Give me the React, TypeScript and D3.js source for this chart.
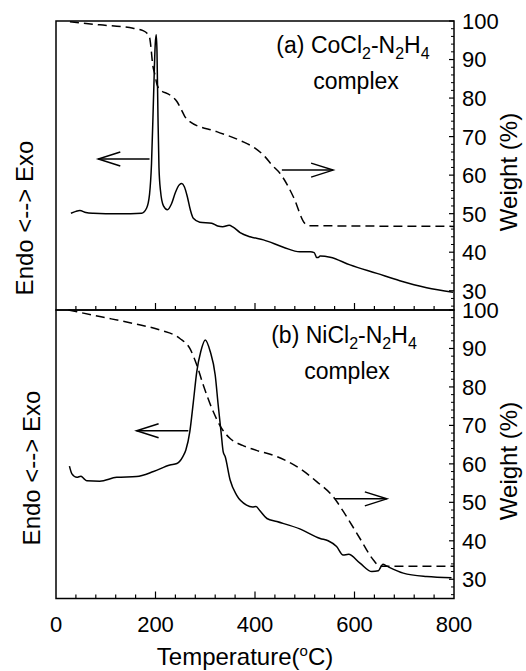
import React from "react";
import * as d3 from "d3";

// ---- data (temperature °C, value) ----
// (a) CoCl2-N2H4 : DSC (solid, arbitrary units on weight-like scale) and TG weight %
const coDSC: [number, number][] = [
  [30, 50.1], [40, 50.6], [48, 50.8], [60, 50.3], [75, 50.1], [100, 50.0], [150, 50.0],
  [172, 50.1], [182, 51.4], [188, 55.0], [192, 63.0], [196, 80], [199.5, 94], [201.5, 96.4],
  [203, 92], [205, 75], [207, 62], [210, 56], [216, 52], [224, 51.0], [232, 52.5],
  [240, 55.5], [248, 57.5], [253, 57.8], [258, 57], [264, 54.4], [270, 51], [276, 48.8],
  [289, 47.8], [313, 47.5], [325, 46.8], [335, 46.6], [348, 47.0], [356, 46.5], [370, 45.1],
  [390, 44.0], [417, 43.2], [457, 41.3], [490, 40.1], [511, 40.1], [519, 39.9], [524, 38.6],
  [527, 38.6], [531, 39.0], [551, 38.7], [591, 36.7], [645, 34.5], [691, 32.6], [745, 30.8],
  [798, 29.6],
];
const coTG: [number, number][] = [
  [28, 99.8], [88, 99.0], [155, 98.1], [175, 97.5], [183, 96.8], [188, 95.8], [191, 93],
  [194, 89], [199, 86], [203, 83.5], [208, 82.3], [229, 80.8], [243, 79.1], [252, 77],
  [259, 75.2], [269, 73.9], [323, 71.3], [370, 69.0], [400, 67.0], [420, 64.8], [435, 62.5],
  [450, 60.5], [477, 54.4], [500, 47.5], [507, 46.9], [600, 46.8], [800, 46.7],
];
// (b) NiCl2-N2H4
const niDSC: [number, number][] = [
  [27, 59.4], [32, 57.4], [42, 56.5], [50, 56.8], [55, 56.3], [62, 55.6], [88, 55.5],
  [122, 56.5], [162, 56.7], [196, 58.0], [229, 59.7], [243, 60.1], [255, 61.9], [261, 63.6],
  [269, 68.4], [276, 76], [283, 84.0], [291, 89.2], [300, 92.2], [310, 89.2], [320, 83.1],
  [326, 75.3], [332, 68], [336, 63.2], [340, 61.9], [350, 55.8], [363, 51.9], [383, 49.3],
  [395, 48.8], [402, 48.9], [410, 47.8], [424, 45.8], [444, 45.0], [490, 43.1], [531, 40.6],
  [547, 40.0], [564, 38.5], [577, 36.3], [588, 36.5], [611, 34.2], [635, 32.0], [648, 32.2],
  [652, 33.0], [657, 33.9], [665, 33.4], [698, 31.6], [745, 30.7], [795, 30.4],
];
const niTG: [number, number][] = [
  [25, 100], [88, 98.3], [155, 96.5], [209, 94.8], [249, 92.6], [269, 90.0], [283, 85.7],
  [296, 80.5], [316, 73.6], [333, 69.2], [350, 66.6], [375, 64.8], [403, 63.5], [444, 61.9],
  [490, 58.8], [524, 55.4], [557, 51.5], [584, 46.3], [611, 40.6], [638, 35.0], [651, 33.4],
  [700, 33.4], [800, 33.4],
];

// arrows: [fromT, toT, level]
const coArrows: [number, number, number][] = [[188, 85, 64.2], [454, 557, 61.3]];
const niArrows: [number, number, number][] = [[266, 162, 68.6], [561, 665, 50.9]];

const xTickLabels = [0, 200, 400, 600, 800];
const weightTickLabels = [30, 40, 50, 60, 70, 80, 90, 100];

const FONT = "'Liberation Sans', Arial, Helvetica, sans-serif";
const L = 56, R = 454;
const x = d3.scaleLinear().domain([0, 800]).range([L, R]);

function Panel({ top, bottom, dsc, tg, arrows, title }: any) {
  const y = d3.scaleLinear().domain([25, 100]).range([bottom, top]);
  const line = d3.line<[number, number]>().x(d => x(d[0])).y(d => y(d[1])).curve(d3.curveMonotoneX);
  const minorW = d3.range(26, 100, 2).filter(v => v % 10 !== 0);
  const xMinor = d3.range(40, 800, 40).filter(v => v % 200 !== 0);
  return (
    <g>
      <path d={line(tg) || ""} fill="none" stroke="#000" strokeWidth={1.5} strokeDasharray="9,5" />
      <path d={line(dsc) || ""} fill="none" stroke="#000" strokeWidth={1.5} />
      {arrows.map((a: [number, number, number], i: number) => {
        const x0 = x(a[0]), x1 = x(a[1]), yy = y(a[2]);
        const dir = x1 > x0 ? 1 : -1;
        return (
          <g key={i} stroke="#000" strokeWidth={1.5} fill="none">
            <line x1={x0} x2={x1} y1={yy} y2={yy} />
            <polyline points={`${x1 - dir * 22},${yy - 7} ${x1},${yy} ${x1 - dir * 22},${yy + 7}`} />
          </g>
        );
      })}
      {/* right axis ticks */}
      {weightTickLabels.map(v => (
        <line key={"M" + v} x1={R - 5} x2={R} y1={y(v)} y2={y(v)} stroke="#000" strokeWidth={1.2} />
      ))}
      {minorW.map(v => (
        <line key={"m" + v} x1={R - 3} x2={R} y1={y(v)} y2={y(v)} stroke="#000" strokeWidth={1} />
      ))}
      {/* bottom x ticks */}
      {xMinor.map(v => (
        <line key={"xm" + v} x1={x(v)} x2={x(v)} y1={bottom} y2={bottom - 4} stroke="#000" strokeWidth={1.2} />
      ))}
      {[200, 400, 600].map(v => (
        <line key={"xM" + v} x1={x(v)} x2={x(v)} y1={bottom} y2={bottom - 7} stroke="#000" strokeWidth={1.2} />
      ))}
      {weightTickLabels.map(v => (
        <text key={"t" + v} x={462} y={y(v)} dy="0.36em" fontSize={22} fontFamily={FONT}>{v}</text>
      ))}
      <rect x={L} y={top} width={R - L} height={bottom - top} fill="none" stroke="#000" strokeWidth={1.5} />
      {title}
    </g>
  );
}

function Formula({ cx, y, label, metal }: any) {
  const sub = (s: string) => (
    <>
      <tspan dy={6} fontSize={16}>{s}</tspan>
    </>
  );
  return (
    <g fontFamily={FONT} fill="#000">
      <text x={cx} y={y} fontSize={23} textAnchor="middle">
        {label} {metal}Cl{sub("2")}<tspan dy={-6}>-N</tspan>{sub("2")}<tspan dy={-6}>H</tspan>{sub("4")}
      </text>
      <text x={cx + 3} y={y + 36} fontSize={23} textAnchor="middle">complex</text>
    </g>
  );
}

export default function App() {
  const topA = 21, botA = 310, topB = 310, botB = 598.5;
  return (
    <svg width={526} height={671} style={{ position: "absolute", left: 0, top: 0, background: "#fff" }}>
      <rect width={526} height={671} fill="#fff" />
      <Panel top={topA} bottom={botA} dsc={coDSC} tg={coTG} arrows={coArrows}
        title={<Formula cx={353} y={53} label="(a)" metal="Co" />} />
      <Panel top={topB} bottom={botB} dsc={niDSC} tg={niTG} arrows={niArrows}
        title={<Formula cx={344} y={343} label="(b)" metal="Ni" />} />
      {xTickLabels.map(v => (
        <text key={v} x={x(v)} y={632} fontSize={22} textAnchor="middle" fontFamily={FONT}>{v}</text>
      ))}
      <text x={245} y={665} fontSize={24} textAnchor="middle" fontFamily={FONT}>
        Temperature(<tspan dy={-9} fontSize={15}>o</tspan><tspan dy={9}>C)</tspan>
      </text>
      <text transform="translate(33,218) rotate(-90)" fontSize={24} textAnchor="middle" fontFamily={FONT}>Endo &lt;--&gt; Exo</text>
      <text transform="translate(40,468) rotate(-90)" fontSize={24} textAnchor="middle" fontFamily={FONT}>Endo &lt;--&gt; Exo</text>
      <text transform="translate(517,172) rotate(-90)" fontSize={24} textAnchor="middle" fontFamily={FONT}>Weight (%)</text>
      <text transform="translate(517,461) rotate(-90)" fontSize={24} textAnchor="middle" fontFamily={FONT}>Weight (%)</text>
    </svg>
  );
}
